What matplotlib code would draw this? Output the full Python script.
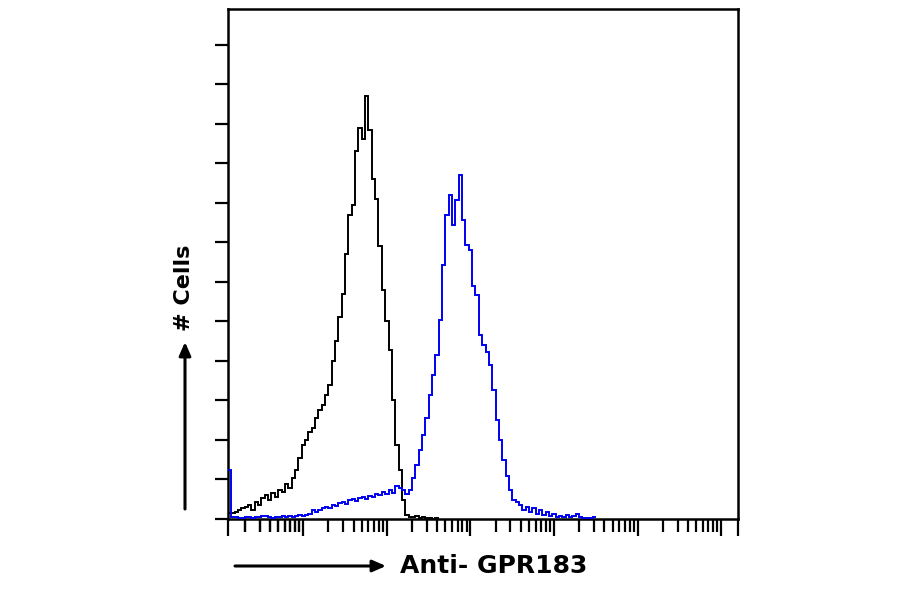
import numpy as np
import matplotlib
matplotlib.use("Agg")
import matplotlib.pyplot as plt
from matplotlib.ticker import FixedLocator, NullFormatter

# histogram bins: log10 channel, first edge and bin width (decades)
log_start = 0.1
log_step = 0.04
x_limits = (10 ** 0.1, 10 ** 6.2)
decades = [1e1, 1e2, 1e3, 1e4, 1e5, 1e6]

# isotype control (black)
control_counts = [
    1.5, 1.5, 1.8, 2.3, 2.8, 3.0, 3.5, 2.3, 4.3, 3.5,
    5.3, 6.0, 4.8, 6.6, 5.6, 7.3, 6.8, 8.9, 7.8, 10.4,
    12.4, 15.4, 18.7, 20.0, 22.0, 23.0, 25.6, 27.6, 28.9, 31.4,
    33.9, 40.0, 45.0, 51.0, 57.0, 67.0, 77.0, 79.5, 93.0, 99.0,
    96.0, 107.0, 98.5, 86.0, 81.0, 69.0, 58.0, 50.0, 42.8, 30.0,
    18.7, 12.4, 4.8, 1.0, 0.5, 0.5, 0.8, 0.3, 0.5, 0.3,
    0.3, 0.0, 0.3,
]

# Anti-GPR183 stained (blue)
stained_counts = [
    12.4, 0.5, 0.5, 0.3, 0.3, 0.5, 0.5, 0.3, 0.5, 0.5,
    0.8, 0.8, 0.5, 0.3, 0.5, 0.5, 0.8, 0.5, 0.8, 0.5,
    0.8, 1.0, 0.8, 1.0, 1.3, 2.3, 1.8, 2.3, 2.8, 3.0,
    2.8, 3.5, 3.3, 4.0, 4.3, 3.8, 4.8, 5.0, 4.6, 5.3,
    5.6, 5.0, 5.8, 5.6, 6.3, 6.0, 6.8, 6.3, 7.3, 6.6,
    8.4, 7.8, 7.3, 6.3, 7.3, 10.4, 13.7, 17.5, 21.3, 25.6,
    31.4, 36.5, 41.5, 50.4, 64.3, 77.0, 82.0, 74.4, 80.8, 87.0,
    75.7, 69.4, 68.0, 59.0, 56.7, 46.6, 44.0, 42.3, 39.0, 32.7,
    25.0, 20.0, 15.0, 11.0, 7.3, 4.8, 4.3, 3.5, 2.3, 3.0,
    1.8, 2.8, 1.3, 2.3, 1.0, 1.8, 0.8, 1.3, 0.5, 0.8,
    0.5, 1.0, 0.5, 0.8, 1.3, 0.5, 0.3, 0.3, 0.3, 0.5,
]

y_ticks = list(range(0, 130, 10))


def bin_edges(n):
    return 10 ** (log_start + log_step * np.arange(n + 1))


fig = plt.figure(figsize=(9, 5.94), dpi=100)
ax = fig.add_axes([228 / 900, 1 - 519 / 594, 510 / 900, 510 / 594])

ax.stairs(control_counts, bin_edges(len(control_counts)), baseline=None,
          color="black", linewidth=1.4, zorder=3)
ax.stairs(stained_counts, bin_edges(len(stained_counts)), baseline=None,
          color="#0000f0", linewidth=1.4, zorder=3.5)

ax.set_xscale("log")
ax.set_xlim(*x_limits)
ax.set_ylim(0, 129)

minor = [m * d / 10 for d in [1e1] + decades for m in range(2, 10)]
minor = [v for v in minor if x_limits[0] < v < x_limits[1]]
ax.xaxis.set_major_locator(FixedLocator([x_limits[0]] + decades + [x_limits[1]]))
ax.xaxis.set_minor_locator(FixedLocator(minor))
ax.xaxis.set_major_formatter(NullFormatter())
ax.xaxis.set_minor_formatter(NullFormatter())
ax.set_yticks(y_ticks)
ax.set_yticklabels([])

ax.tick_params(axis="x", which="major", direction="out", length=12.5, width=1.6)
ax.tick_params(axis="x", which="minor", direction="out", length=9.5, width=1.6)
ax.tick_params(axis="y", which="major", direction="out", length=9.5, width=1.6)
for sp in ax.spines.values():
    sp.set_linewidth(1.8)

# axis labels with arrows
fig.text(400 / 900, 1 - 566 / 594, "Anti- GPR183", fontsize=18,
         fontweight="bold", ha="left", va="center")
fig.text(184 / 900, 1 - 288 / 594, "# Cells", fontsize=16,
         fontweight="bold", ha="center", va="center", rotation=90)

arrow = dict(arrowstyle="-|>,head_length=0.8,head_width=0.35", color="black",
             linewidth=2.2, shrinkA=0, shrinkB=0)
ax.annotate("", xy=(386 / 900, 1 - 566 / 594), xytext=(235 / 900, 1 - 566 / 594),
            xycoords="figure fraction", textcoords="figure fraction",
            arrowprops=arrow)
ax.annotate("", xy=(185 / 900, 1 - 342 / 594), xytext=(185 / 900, 1 - 509 / 594),
            xycoords="figure fraction", textcoords="figure fraction",
            arrowprops=arrow)

fig.savefig("out.png", dpi=100)
